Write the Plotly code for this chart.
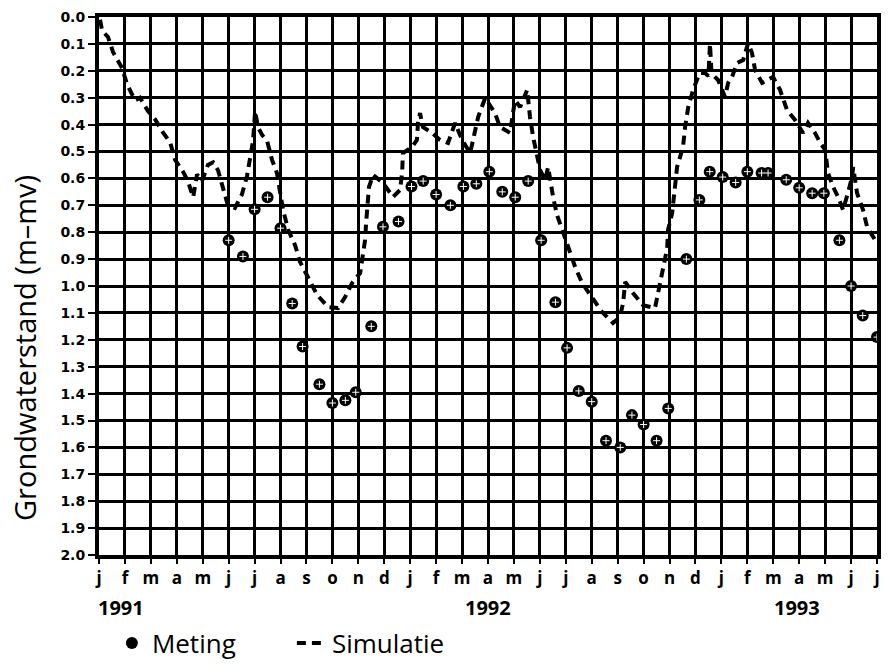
import plotly.graph_objects as go

# month index: 0 = januari 1991 ... 30 = juli 1993
maand_labels = ["j", "f", "m", "a", "m", "j", "j", "a", "s", "o", "n", "d"] * 2 + ["j", "f", "m", "a", "m", "j", "j"]
jaar_labels = ["1991", "1992", "1993"]
jaar_pos = [0.85, 15.0, 26.9]

meting_maand = [5.0, 5.55, 6.0, 6.5, 7.0, 7.45, 7.85, 8.5, 9.0, 9.5, 9.9, 10.5, 10.95, 11.55,
                12.05, 12.5, 13.0, 13.55, 14.05, 14.55, 15.05, 15.55, 16.05, 16.55, 17.05, 17.6,
                18.05, 18.5, 19.0, 19.55, 20.1, 20.55, 21.0, 21.5, 21.95, 22.65, 23.15, 23.55,
                24.05, 24.55, 25.0, 25.55, 25.8, 26.5, 27.0, 27.5, 27.95, 28.55, 29.0, 29.45, 30.0]
meting_diepte = [0.83, 0.89, 0.715, 0.67, 0.785, 1.065, 1.225, 1.365, 1.435, 1.425, 1.395, 1.15, 0.78, 0.76,
                 0.63, 0.61, 0.66, 0.70, 0.63, 0.62, 0.575, 0.65, 0.67, 0.61, 0.83, 1.06,
                 1.23, 1.39, 1.43, 1.575, 1.60, 1.48, 1.515, 1.575, 1.455, 0.90, 0.68, 0.575,
                 0.595, 0.615, 0.575, 0.58, 0.58, 0.605, 0.635, 0.655, 0.655, 0.83, 1.0, 1.11, 1.19]

simulatie_maand = [0.04, 0.12, 0.35, 0.54, 0.89, 1.08, 1.39, 1.58, 1.89, 2.16, 2.47, 2.74, 2.93, 3.24,
                   3.43, 3.63, 3.78, 3.97, 4.20, 4.40, 4.59, 4.78, 4.97, 5.24, 5.51, 5.71, 5.82, 5.94,
                   6.02, 6.13, 6.30, 6.48, 6.67, 6.86, 6.98, 7.10, 7.29, 7.56, 7.75, 8.06, 8.41, 8.83,
                   9.22, 9.49, 9.76, 10.07, 10.18, 10.26, 10.30, 10.34, 10.41, 10.57, 10.95, 11.34,
                   11.61, 11.69, 11.72, 12.07, 12.26, 12.30, 12.38, 12.49, 12.84, 13.15, 13.46, 13.73,
                   14.0, 14.31, 14.5, 14.62, 14.89, 15.27, 15.46, 15.85, 16.04, 16.24, 16.51, 16.62,
                   16.74, 16.89, 17.01, 17.2, 17.32, 17.51, 17.66, 17.89, 18.09, 18.36, 18.63, 19.01,
                   19.4, 19.82, 20.09, 20.21, 20.29, 20.59, 20.98, 21.44, 21.56, 21.71, 21.91, 21.94,
                   22.1, 22.21, 22.29, 22.52, 22.6, 22.72, 22.91, 23.1, 23.18, 23.37, 23.5, 23.56,
                   23.62, 23.68, 23.87, 24.14, 24.26, 24.41, 24.6, 24.84, 25.03, 25.18, 25.3, 25.57,
                   25.8, 25.99, 26.26, 26.53, 26.84, 27.15, 27.34, 27.61, 27.81, 28.0, 28.11, 28.31,
                   28.5, 28.69, 28.88, 29.04, 29.08, 29.23, 29.46, 29.62, 30.0]
simulatie_diepte = [0.01, 0.05, 0.075, 0.13, 0.19, 0.25, 0.31, 0.30, 0.35, 0.38, 0.43, 0.465, 0.53, 0.575,
                    0.61, 0.67, 0.585, 0.61, 0.55, 0.54, 0.57, 0.63, 0.70, 0.71, 0.66, 0.59, 0.52, 0.46,
                    0.35, 0.41, 0.44, 0.46, 0.53, 0.58, 0.65, 0.717, 0.79, 0.848, 0.91, 0.97, 1.033, 1.078,
                    1.082, 1.041, 0.989, 0.952, 0.892, 0.829, 0.766, 0.699, 0.632, 0.587, 0.617, 0.669,
                    0.643, 0.576, 0.506, 0.483, 0.457, 0.394, 0.357, 0.409, 0.431, 0.457, 0.468, 0.394,
                    0.457, 0.506, 0.431, 0.372, 0.301, 0.357, 0.409, 0.431, 0.309, 0.335, 0.271, 0.372,
                    0.446, 0.506, 0.569, 0.606, 0.558, 0.669, 0.736, 0.799, 0.859, 0.929, 0.989, 1.045,
                    1.097, 1.138, 1.115, 1.063, 0.985, 1.026, 1.071, 1.082, 1.026, 0.952, 0.859, 0.792,
                    0.729, 0.632, 0.558, 0.483, 0.409, 0.335, 0.271, 0.223, 0.208, 0.208, 0.22, 0.10,
                    0.21, 0.216, 0.234, 0.297, 0.245, 0.223, 0.171, 0.16, 0.097, 0.134, 0.197, 0.245,
                    0.234, 0.223, 0.271, 0.346, 0.383, 0.431, 0.394, 0.431, 0.468, 0.494, 0.58, 0.632,
                    0.669, 0.717, 0.654, 0.595, 0.558, 0.654, 0.717, 0.781, 0.84]

fig = go.Figure()
fig.add_trace(go.Scatter(
    x=simulatie_maand, y=simulatie_diepte, mode="lines", name="Simulatie",
    line=dict(color="black", width=4, dash="9px,6px"),
))
fig.add_trace(go.Scatter(
    x=meting_maand, y=meting_diepte, mode="markers", name="Meting",
    marker=dict(color="black", size=12, symbol="circle"),
))
fig.add_trace(go.Scatter(
    x=meting_maand, y=meting_diepte, mode="markers", showlegend=False, hoverinfo="skip",
    marker=dict(color="white", size=5, symbol="cross-thin", line=dict(color="white", width=1)),
))

for lab, pos in zip(jaar_labels, jaar_pos):
    fig.add_annotation(x=pos, y=-0.097, xref="x", yref="paper", text=lab, showarrow=False,
                       xanchor="center", yanchor="middle",
                       font=dict(family="Open Sans", size=20, color="black", weight="bold"))

fig.add_annotation(x=-0.095, y=0.385, xref="paper", yref="paper", text="Grondwaterstand (m\u2013mv)",
                   textangle=-90, showarrow=False, xanchor="center", yanchor="middle",
                   font=dict(family="Open Sans", size=29, color="black"))

fig.update_xaxes(
    range=[0, 30], tickmode="array", tickvals=list(range(len(maand_labels))), ticktext=maand_labels,
    showgrid=True, gridcolor="black", gridwidth=2.5, zeroline=False,
    showline=True, linecolor="black", linewidth=4, mirror=True,
    ticks="outside", ticklen=5, tickwidth=2, tickcolor="black", ticklabelstandoff=0,
    tickfont=dict(family="Open Sans", size=17, color="black", weight="bold"),
)
fig.update_yaxes(
    range=[2.0, 0.0], dtick=0.1, tick0=0, tickformat=".1f",
    showgrid=True, gridcolor="black", gridwidth=2.5, zeroline=False,
    showline=True, linecolor="black", linewidth=4, mirror=True,
    ticks="outside", ticklen=7, tickwidth=2, tickcolor="black",
    tickfont=dict(family="DejaVu Sans", size=14, color="black", weight="bold"),
)

fig.update_layout(
    width=888, height=665,
    margin=dict(l=99, r=11, t=17, b=110, autoexpand=False),
    plot_bgcolor="white", paper_bgcolor="white",
    showlegend=True,
    legend=dict(orientation="h", xref="container", yref="container",
                x=0.126, xanchor="left", y=0.033, yanchor="middle",
                traceorder="reversed", entrywidth=135, entrywidthmode="pixels",
                font=dict(family="Open Sans", size=26, color="black"),
                bgcolor="rgba(0,0,0,0)"),
)

fig.write_html("out.html")
